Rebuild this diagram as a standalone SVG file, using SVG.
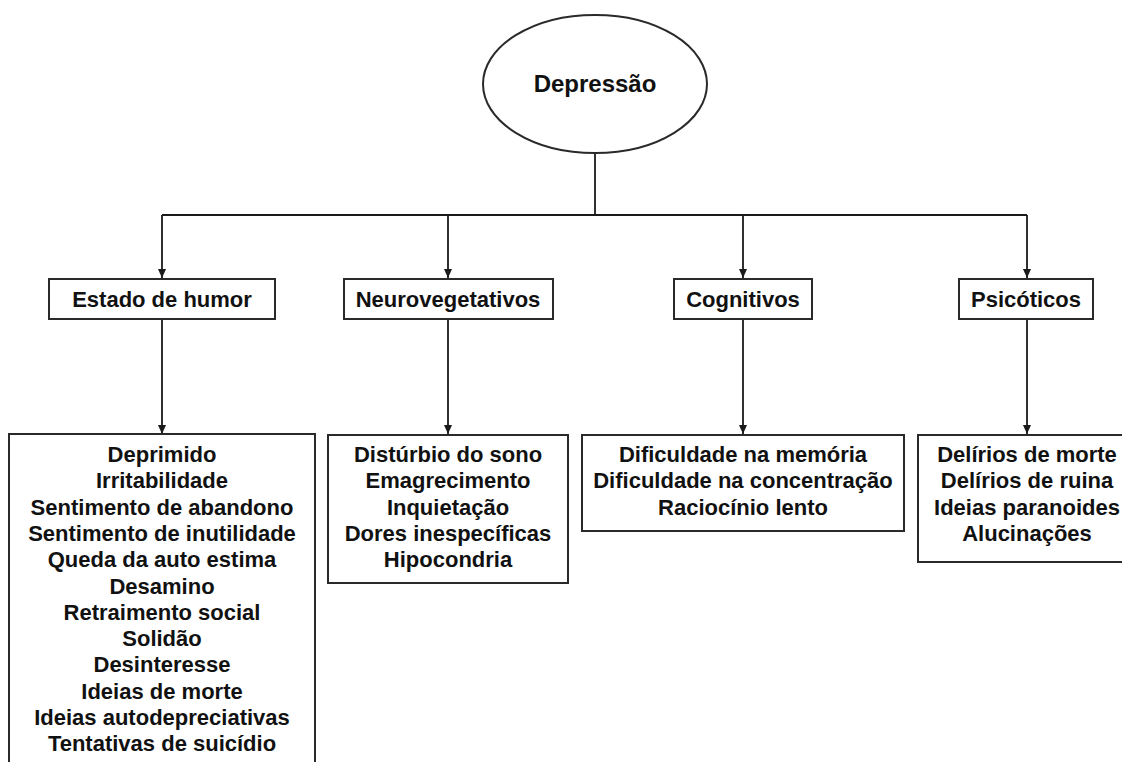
<svg xmlns="http://www.w3.org/2000/svg" width="1122" height="762" viewBox="0 0 1122 762">
  <defs>
    <marker id="arr" markerUnits="userSpaceOnUse" markerWidth="10" markerHeight="10" refX="9" refY="5" orient="auto">
      <path d="M0,1 L9,5 L0,9 Z" fill="#1a1a1a"/>
    </marker>
    <style>
      .box { fill: #ffffff; stroke: #2a2a2a; stroke-width: 2; }
      .t { font-family: "Liberation Sans", Arial, sans-serif; font-weight: bold; font-size: 22px; fill: #111; text-anchor: middle; }
      .big { font-size: 24px; }
      .ln { fill: none; stroke: #1a1a1a; stroke-width: 1.8; }
    </style>
  </defs>
  <rect width="1122" height="762" fill="#ffffff"/>

  <g id="connectors">
    <path class="ln" d="M595,153 L595,215"/>
    <path class="ln" d="M162,215 L1027,215"/>
    <path class="ln" d="M162,215 L162,278" marker-end="url(#arr)"/>
    <path class="ln" d="M448,215 L448,278" marker-end="url(#arr)"/>
    <path class="ln" d="M743,215 L743,278" marker-end="url(#arr)"/>
    <path class="ln" d="M1027,215 L1027,278" marker-end="url(#arr)"/>
    <path class="ln" d="M162,319 L162,434" marker-end="url(#arr)"/>
    <path class="ln" d="M448,319 L448,434" marker-end="url(#arr)"/>
    <path class="ln" d="M743,319 L743,434" marker-end="url(#arr)"/>
    <path class="ln" d="M1027,319 L1027,434" marker-end="url(#arr)"/>
  </g>

  <g id="depressao">
    <ellipse cx="595" cy="84" rx="112" ry="69" class="box"/>
    <text class="t big" x="595" y="92">Depressão</text>
  </g>

  <g id="estado-humor">
    <rect class="box" x="49" y="279" width="226" height="40"/>
    <text class="t" x="162" y="307">Estado de humor</text>
  </g>
  <g id="neurovegetativos">
    <rect class="box" x="344" y="279" width="209" height="40"/>
    <text class="t" x="448" y="307">Neurovegetativos</text>
  </g>
  <g id="cognitivos">
    <rect class="box" x="674" y="279" width="138" height="40"/>
    <text class="t" x="743" y="307">Cognitivos</text>
  </g>
  <g id="psicoticos">
    <rect class="box" x="959" y="279" width="134" height="40"/>
    <text class="t" x="1026" y="307">Psicóticos</text>
  </g>

  <g id="humor-detalhes">
    <rect class="box" x="9" y="434" width="306" height="345"/>
    <text class="t" x="162" y="462">Deprimido</text>
    <text class="t" x="162" y="488.3">Irritabilidade</text>
    <text class="t" x="162" y="514.6">Sentimento de abandono</text>
    <text class="t" x="162" y="540.9">Sentimento de inutilidade</text>
    <text class="t" x="162" y="567.2">Queda da auto estima</text>
    <text class="t" x="162" y="593.5">Desamino</text>
    <text class="t" x="162" y="619.8">Retraimento social</text>
    <text class="t" x="162" y="646.1">Solidão</text>
    <text class="t" x="162" y="672.4">Desinteresse</text>
    <text class="t" x="162" y="698.7">Ideias de morte</text>
    <text class="t" x="162" y="725">Ideias autodepreciativas</text>
    <text class="t" x="162" y="751.3">Tentativas de suicídio</text>
  </g>

  <g id="neuro-detalhes">
    <rect class="box" x="328" y="435" width="240" height="148"/>
    <text class="t" x="448" y="462">Distúrbio do sono</text>
    <text class="t" x="448" y="488.3">Emagrecimento</text>
    <text class="t" x="448" y="514.6">Inquietação</text>
    <text class="t" x="448" y="540.9">Dores inespecíficas</text>
    <text class="t" x="448" y="567.2">Hipocondria</text>
  </g>

  <g id="cognitivos-detalhes">
    <rect class="box" x="582" y="435" width="322" height="96"/>
    <text class="t" x="743" y="462">Dificuldade na memória</text>
    <text class="t" x="743" y="488.3">Dificuldade na concentração</text>
    <text class="t" x="743" y="514.6">Raciocínio lento</text>
  </g>

  <g id="psicoticos-detalhes">
    <rect class="box" x="918" y="435" width="215" height="127"/>
    <text class="t" x="1027" y="462">Delírios de morte</text>
    <text class="t" x="1027" y="488.3">Delírios de ruina</text>
    <text class="t" x="1027" y="514.6">Ideias paranoides</text>
    <text class="t" x="1027" y="540.9">Alucinações</text>
  </g>
</svg>
